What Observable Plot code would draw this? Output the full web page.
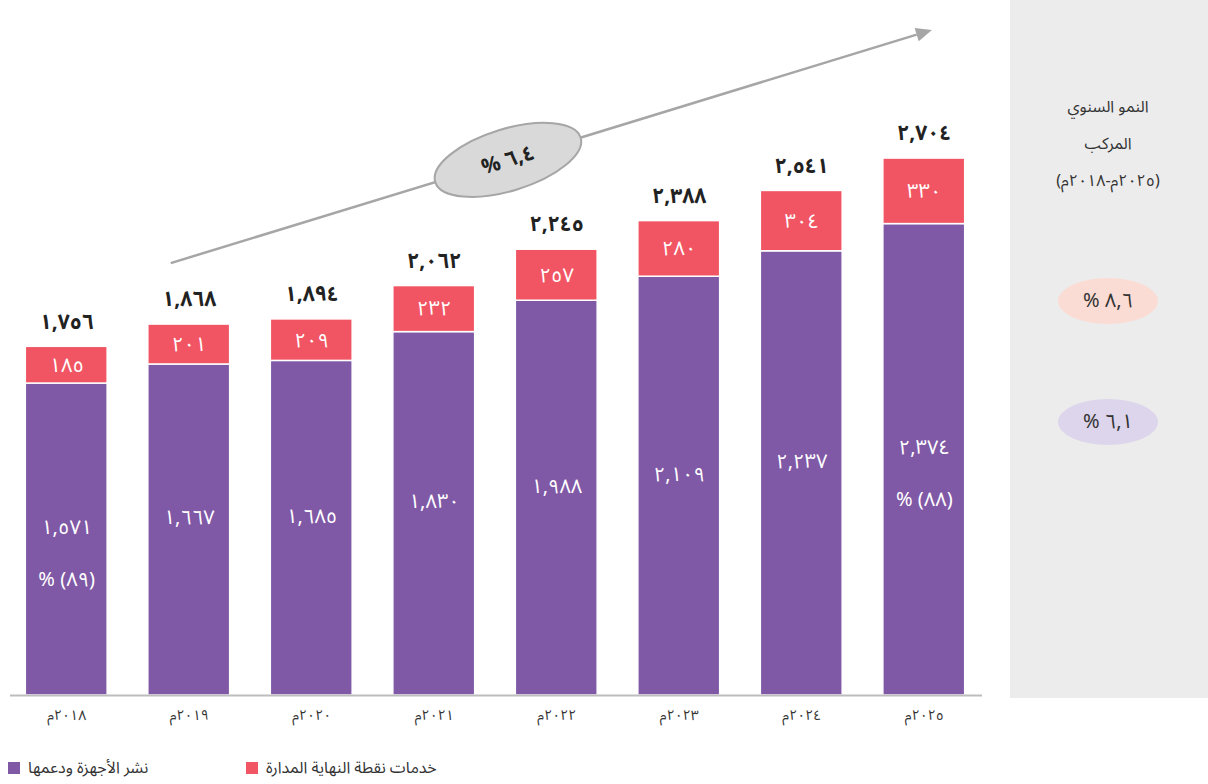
<!DOCTYPE html>
<html lang="ar">
<head>
<meta charset="utf-8">
<script src="https://cdn.jsdelivr.net/npm/d3@7"></script>
<script src="https://cdn.jsdelivr.net/npm/@observablehq/plot@0.6"></script>
<style>
  html, body { margin: 0; padding: 0; background: #fff; }
  body { width: 1208px; height: 784px; overflow: hidden; font-family: "Noto Sans Arabic", "DejaVu Sans", sans-serif; }
  #chart svg { display: block; }
  #legend { position: relative; height: 39px; font-size: 16px; color: #333; }
  .item { position: absolute; top: 6px; display: flex; align-items: center; direction: ltr; }
  .sw { width: 12px; height: 12px; margin-right: 8px; }
</style>
</head>
<body>
<div id="chart"></div>
<div id="legend"></div>
<script>
// ---- data ----
const years = ["٢٠١٨م", "٢٠١٩م", "٢٠٢٠م", "٢٠٢١م", "٢٠٢٢م", "٢٠٢٣م", "٢٠٢٤م", "٢٠٢٥م"];
const seriesNames = ["نشر الأجهزة ودعمها", "خدمات نقطة النهاية المدارة"];
const seriesColors = ["#7f58a6", "#f15563"];
const devices = [1571, 1667, 1685, 1830, 1988, 2109, 2237, 2374];
const endpoint = [185, 201, 209, 232, 257, 280, 304, 330];
const totals = [1756, 1868, 1894, 2062, 2245, 2388, 2541, 2704];
const totalLabels = ["١,٧٥٦", "١,٨٦٨", "١,٨٩٤", "٢,٠٦٢", "٢,٢٤٥", "٢,٣٨٨", "٢,٥٤١", "٢,٧٠٤"];
const deviceLabels = ["١,٥٧١", "١,٦٦٧", "١,٦٨٥", "١,٨٣٠", "١,٩٨٨", "٢,١٠٩", "٢,٢٣٧", "٢,٣٧٤"];
const endpointLabels = ["١٨٥", "٢٠١", "٢٠٩", "٢٣٢", "٢٥٧", "٢٨٠", "٣٠٤", "٣٣٠"];
const deviceShare = ["(٨٩) %", "", "", "", "", "", "", "(٨٨) %"];
const cagrTotal = "٦,٤ %";
const cagrEndpoint = "٨,٦ %";
const cagrDevices = "٦,١ %";
const cagrTitle = ["النمو السنوي", "المركب", "(٢٠٢٥م-٢٠١٨م)"];
// arrow annotation, in data terms (value axis)
const arrowValues = [2175, 3349];

// ---- tables ----
const rows = [];
years.forEach((y, i) => {
  rows.push({year: y, series: seriesNames[0], value: devices[i]});
  rows.push({year: y, series: seriesNames[1], value: endpoint[i]});
});
const labels = years.map((y, i) => ({
  year: y, total: totals[i], totalLabel: totalLabels[i],
  dev: devices[i], devLabel: deviceLabels[i], share: deviceShare[i],
  end: endpoint[i], endLabel: endpointLabels[i],
  two: deviceShare[i] !== ""
}));

const FONT = '"Noto Sans Arabic", "DejaVu Sans", sans-serif';
const W = 1208, H = 745;
const RLI = "\u2067", PDI = "\u2069";

const plot = Plot.plot({
  width: W,
  height: H,
  marginLeft: 10,
  marginRight: 228,
  marginTop: 0,
  marginBottom: 50,
  style: {fontFamily: FONT, background: "transparent", overflow: "visible"},
  x: {domain: years, paddingInner: 0.332, paddingOuter: 0.125, round: false, label: null},
  y: {domain: [0, 3500], range: [695, 0], axis: null},
  color: {domain: seriesNames, range: seriesColors},
  marks: [
    Plot.barY(rows, {x: "year", y: "value", fill: "series", stroke: "white", strokeWidth: 1.5}),
    Plot.ruleY([0], {stroke: "#bdbdbd", strokeWidth: 2, insetRight: -2}),
    Plot.axisX({tickSize: 0, tickPadding: 15, fontSize: 14, fill: "#333", label: null}),
    Plot.text(labels, {x: "year", y: "total", text: "totalLabel", dy: -25, fontSize: 21, fontWeight: "bold", fill: "#222"}),
    Plot.text(labels, {x: "year", y: d => d.dev + d.end / 2, text: "endLabel", fontSize: 20, fill: "white"}),
    Plot.text(labels, {x: "year", y: d => d.dev / 2, text: "devLabel", dy: -12, fontSize: 20, fill: "white"}),
    Plot.text(labels.filter(d => d.two), {x: "year", y: d => d.dev / 2, text: d => RLI + d.share + PDI, dy: 40, fontSize: 20, fill: "white"})
  ]
});
document.getElementById("chart").appendChild(plot);

// ---- annotations drawn with the plot's own scales ----
const svg = d3.select(plot);
const sx = plot.scale("x");
const sy = plot.scale("y");
const bw = sx.bandwidth;

// side panel
svg.insert("rect", ":first-child")
  .attr("x", 1010).attr("y", 0).attr("width", W - 1010).attr("height", 698)
  .attr("fill", "#ececec");

const panelX = 1108;
cagrTitle.forEach((t, i) => {
  svg.append("text").attr("x", panelX).attr("y", 108 + i * 37)
    .attr("text-anchor", "middle").attr("dominant-baseline", "middle")
    .attr("direction", "rtl").style("unicode-bidi", "embed")
    .attr("font-family", FONT).attr("font-size", 16).attr("fill", "#333").text(t);
});
[[cagrEndpoint, "#fbdcd5", 301], [cagrDevices, "#ddd5eb", 422]].forEach(([t, c, cy]) => {
  svg.append("ellipse").attr("cx", panelX).attr("cy", cy).attr("rx", 50).attr("ry", 23).attr("fill", c);
  svg.append("text").attr("x", panelX).attr("y", cy)
    .attr("text-anchor", "middle").attr("dominant-baseline", "central")
    .attr("direction", "rtl").style("unicode-bidi", "embed")
    .attr("font-family", FONT).attr("font-size", 20).attr("fill", "#333").text(t);
});

// growth arrow
const x1 = sx.apply(years[1]) + bw * 0.28;
const x2 = sx.apply(years[7]) + bw * 0.6;
const y1 = sy.apply(arrowValues[0]);
const y2 = sy.apply(arrowValues[1]);
const ang = Math.atan2(y2 - y1, x2 - x1);
const headLen = 16, headW = 7;
const bx = x2 - headLen * Math.cos(ang), by = y2 - headLen * Math.sin(ang);
svg.append("line").attr("x1", x1).attr("y1", y1).attr("x2", bx).attr("y2", by)
  .attr("stroke", "#a6a6a6").attr("stroke-width", 2.5);
svg.append("path")
  .attr("d", `M${x2},${y2}L${bx + headW * Math.sin(ang)},${by - headW * Math.cos(ang)}L${bx - headW * Math.sin(ang)},${by + headW * Math.cos(ang)}Z`)
  .attr("fill", "#a6a6a6");

// CAGR ellipse on the arrow
const t = 0.443;
const ex = x1 + (x2 - x1) * t, ey = y1 + (y2 - y1) * t;
const deg = ang * 180 / Math.PI;
const g = svg.append("g").attr("transform", `translate(${ex},${ey}) rotate(${deg})`);
g.append("ellipse").attr("rx", 76).attr("ry", 31).attr("fill", "#d9d9d9").attr("stroke", "#a6a6a6").attr("stroke-width", 2);
g.append("text").attr("text-anchor", "middle").attr("dominant-baseline", "central")
  .attr("direction", "rtl").style("unicode-bidi", "embed")
  .attr("font-family", FONT).attr("font-size", 21).attr("font-weight", "bold").attr("fill", "#222").text(cagrTotal);

// ---- legend ----
const legend = document.getElementById("legend");
const legendX = [8, 246];
seriesNames.forEach((name, i) => {
  const it = document.createElement("div");
  it.className = "item";
  it.style.left = legendX[i] + "px";
  const sw = document.createElement("div");
  sw.className = "sw";
  sw.style.background = seriesColors[i];
  const tx = document.createElement("span");
  tx.dir = "rtl";
  tx.textContent = name;
  it.appendChild(sw); it.appendChild(tx);
  legend.appendChild(it);
});
</script>
</body>
</html>
